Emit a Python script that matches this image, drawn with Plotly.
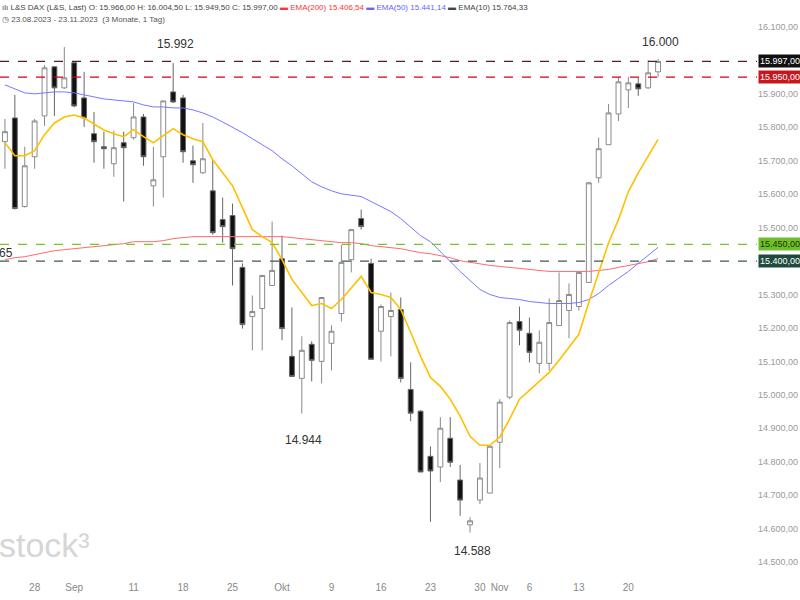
import plotly.graph_objects as go
import pandas as pd

dates = list(pd.bdate_range("2023-08-23", "2023-11-23").strftime("%d.%m.%Y"))

opens = [15757,15828,15563,15712,15834,15981,15918,15993,15888,15781,15742,15691,15754,15769,15831,15625,15712,15906,
         15888,15700,15664,15610,15524,15536,15381,15234,15258,15327,15407,15115,15049,15151,15100,15154,15243,15404,15527,
         15393,15190,15234,15255,15016,14951,14816,14784,14870,14745,14611,14685,14706,14858,14993,15219,15184,15094,15094,
         15207,15252,15264,15336,15649,15748,15840,15912,15930,15918,15966]
highs = [15825,15897,15742,15825,15987,15981,16040,15993,15966,15846,15787,15790,15787,15873,15840,15742,15879,15992,
         15897,15745,15813,15703,15590,15572,15393,15297,15357,15518,15476,15261,15175,15160,15291,15208,15449,15494,15554,
         15407,15270,15306,15291,15097,14954,14846,14933,14933,14790,14634,14796,14846,14987,15222,15264,15231,15193,15288,
         15366,15333,15366,15637,15769,15870,15951,15951,15948,16001,16004.5]
lows = [15676,15554,15560,15676,15804,15834,15915,15860,15801,15694,15676,15652,15578,15763,15685,15563,15590,15873,
        15694,15634,15661,15479,15455,15327,15198,15133,15133,15327,15163,15055,14944,15040,15034,15073,15219,15366,15494,
        15106,15100,15115,15037,14921,14769,14620,14739,14784,14638,14588,14673,14706,14781,14987,15148,15097,15064,15073,
        15207,15169,15252,15336,15634,15748,15819,15858,15894,15915,15949.5]
closes = [15787,15557,15685,15819,15978,15918,15948,15864,15828,15757,15736,15739,15739,15831,15712,15643,15879,15876,
          15727,15688,15706,15485,15503,15437,15210,15249,15357,15372,15198,15055,15133,15103,15291,15190,15396,15494,15503,
          15106,15264,15252,15049,14945,14769,14772,14900,14798,14685,14623,14751,14846,14978,15216,15193,15127,15157,15216,
          15282,15300,15366,15634,15736,15843,15936,15933,15915,15963,15997]

ema10 = [15754,15715,15715,15730,15778,15813,15831,15837,15828,15810,15792,15781,15772,15793,15772,15754,15775,15796,
         15778,15766,15757,15703,15664,15625,15560,15494,15473,15455,15404,15345,15306,15267,15273,15258,15285,15321,15354,
         15306,15300,15291,15255,15187,15115,15052,15025,14987,14936,14876,14849,14849,14873,14927,14987,15013,15040,15067,
         15103,15142,15181,15276,15366,15455,15524,15607,15664,15712,15764]
ema50 = [15927,15915,15903,15900,15903,15906,15906,15903,15897,15891,15885,15882,15879,15876,15867,15861,15861,15858,
         15858,15852,15843,15831,15816,15801,15784,15766,15748,15730,15706,15685,15661,15637,15622,15610,15601,15596,15593,
         15578,15563,15548,15527,15500,15476,15458,15428,15399,15369,15342,15315,15300,15291,15288,15285,15279,15276,15273,
         15273,15273,15276,15285,15303,15327,15348,15369,15393,15416,15441]
ema200 = [15404,15410,15413,15419,15425,15431,15434,15437,15440,15443,15446,15449,15452,15458,15458,15458,15461,15467,
          15470,15473,15473,15473,15473,15473,15473,15473,15473,15473,15473,15470,15467,15464,15461,15458,15455,15455,15452,
          15446,15443,15440,15437,15431,15425,15422,15416,15410,15401,15396,15390,15387,15384,15381,15378,15375,15372,15369,
          15369,15369,15369,15369,15372,15375,15381,15387,15393,15398,15407]

tick_idx = [3,7,13,18,23,28,33,38,43,48,50,53,58,63]
tick_txt = ["28","Sep","11","18","25","Okt","9","16","23","30","Nov","6","13","20"]
y_ticks = [14500,14600,14700,14800,14900,15000,15100,15200,15300,15500,15600,15700,15800,15900,16100]
y_tick_txt = [f"{v:,}".replace(",", ".") + ",00" for v in y_ticks]

levels = [15997, 15950, 15450, 15400]
level_colors = ["#5a1a2a", "#d0021b", "#7cc424", "#3d5a50"]
level_label_bg = ["#111111", "#c8161d", "#6fbf2a", "#1f4b3f"]
level_label_fg = ["white", "white", "#1a3300", "white"]

extremes = [(17, 15992, "15.992", 19), (66, 16004.5, "16.000", 17), (30, 14944, "14.944", -26), (47, 14588, "14.588", -18)]

x = list(range(len(dates)))
fig = go.Figure()
for vals, col, w in [(ema200, "#ff6b6b", 1), (ema50, "#7777ff", 1), (ema10, "#ffc000", 1.6)]:
    fig.add_trace(go.Scatter(x=x, y=vals, mode="lines", line=dict(color=col, width=w), hoverinfo="skip"))
fig.add_trace(go.Candlestick(x=x, open=opens, high=highs, low=lows, close=closes, whiskerwidth=0,
    increasing=dict(line=dict(color="#8a8a8a", width=1), fillcolor="white"),
    decreasing=dict(line=dict(color="#666666", width=1), fillcolor="#111111"),
    text=dates))

for lv, c, bg, fg in zip(levels, level_colors, level_label_bg, level_label_fg):
    fig.add_shape(type="line", xref="paper", x0=0, x1=1, y0=lv, y1=lv, line=dict(color=c, width=1.3, dash="dash"))
    fig.add_annotation(xref="paper", x=1.0, y=lv, xanchor="left", text=f"{lv:,}".replace(",", ".") + ",00",
                       showarrow=False, bgcolor=bg, font=dict(color=fg, size=9, family="Liberation Sans Narrow, Liberation Sans"),
                       borderpad=1, xshift=1)

for i, v, t, ys in extremes:
    fig.add_annotation(x=i, y=v, text=t, showarrow=False, font=dict(size=12, color="#333"), yshift=ys, xshift=2)

fig.add_annotation(xref="paper", x=0, y=15425, text="65", showarrow=False, xanchor="left",
                   font=dict(size=12, color="#333"), xshift=-3)

fig.add_annotation(xref="paper", yref="paper", x=0.0, y=0.0625, xanchor="left", yanchor="middle", text="stock³",
                   showarrow=False, xshift=-3, font=dict(size=34, color="#d6d6d6", family="Liberation Sans"))

hdr1 = ("<span style='color:#444'>ılı L&S DAX (L&S, Last) O: 15.966,00 H: 16.004,50 L: 15.949,50 C: 15.997,00</span>"
        " <span style='color:#ff3333'>▬ EMA(200) 15.406,54</span>"
        " <span style='color:#6666ff'>▬ EMA(50) 15.441,14</span>"
        " <span style='color:#444'>▬ EMA(10) 15.764,33</span>")
fig.add_annotation(xref="paper", yref="paper", x=0, y=1, yshift=19, xanchor="left", yanchor="top", text=hdr1,
                   showarrow=False, font=dict(size=8, family="Liberation Sans Narrow, Liberation Sans"))
fig.add_annotation(xref="paper", yref="paper", x=0, y=1, yshift=7, xanchor="left", yanchor="top",
                   text="◷ 23.08.2023 - 23.11.2023  (3 Monate, 1 Tag)", showarrow=False,
                   font=dict(size=8, color="#555", family="Liberation Sans Narrow, Liberation Sans"))

fig.update_layout(width=800, height=600, margin=dict(l=0, r=43, t=20, b=20), showlegend=False,
                  plot_bgcolor="white", paper_bgcolor="white", font=dict(family="Liberation Sans"))
fig.update_xaxes(range=[-0.5, 76], tickvals=tick_idx, ticktext=tick_txt, showgrid=False, zeroline=False,
                 rangeslider=dict(visible=False), ticks="", automargin=False,
                 tickfont=dict(size=10, color="#888"), showline=False)
fig.update_yaxes(range=[14446, 16121], side="right", tickvals=y_ticks, ticktext=y_tick_txt, showgrid=False,
                 zeroline=False, tickfont=dict(size=9, color="#999"), ticks="", showline=False, automargin=False)
fig.write_html("out.html", post_script="document.body.style.margin='0';", config={"displayModeBar": False})
